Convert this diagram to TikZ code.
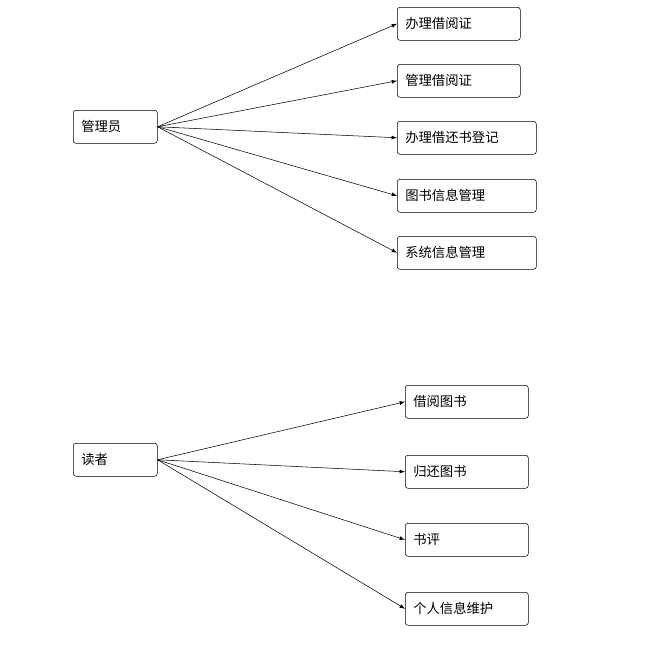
\documentclass[tikz,border=0pt]{standalone}
\usepackage{fontspec}
\setmainfont{Noto Sans CJK SC}
\usetikzlibrary{positioning}
\usetikzlibrary{arrows}

\tikzset{
  fbox/.style={draw, rounded corners=2pt, anchor=north west, inner xsep=6pt,
    inner ysep=0pt, align=left, minimum height=24.75pt, font=\fontsize{10}{12}\selectfont},
  link/.style={-latex, thin}
}

\begin{document}
\begin{tikzpicture}[x=0.75pt,y=-0.75pt]
  \useasboundingbox (0,0) rectangle (648,672);

  \node [fbox, text width=51pt] (admin) at (73,110) {管理员};
  \node [fbox, text width=80.25pt] (f1) at (397,7) {办理借阅证};
  \node [fbox, text width=80.25pt] (f2) at (397,64) {管理借阅证};
  \node [fbox, text width=92.25pt] (f3) at (397,121) {办理借还书登记};
  \node [fbox, text width=92.25pt] (f4) at (397,179) {图书信息管理};
  \node [fbox, text width=92.25pt] (f5) at (397,236) {系统信息管理};

  \node [fbox, text width=51pt] (reader) at (73,443) {读者};
  \node [fbox, text width=80.25pt] (r1) at (405,385) {借阅图书};
  \node [fbox, text width=80.25pt] (r2) at (405,455) {归还图书};
  \node [fbox, text width=80.25pt] (r3) at (405,523) {书评};
  \node [fbox, text width=80.25pt] (r4) at (405,592) {个人信息维护};

  \foreach \t in {f1,f2,f3,f4,f5}
    \draw [link] (admin.east) -- (\t.west);
  \foreach \t in {r1,r2,r3,r4}
    \draw [link] (reader.east) -- (\t.west);
\end{tikzpicture}
\end{document}
